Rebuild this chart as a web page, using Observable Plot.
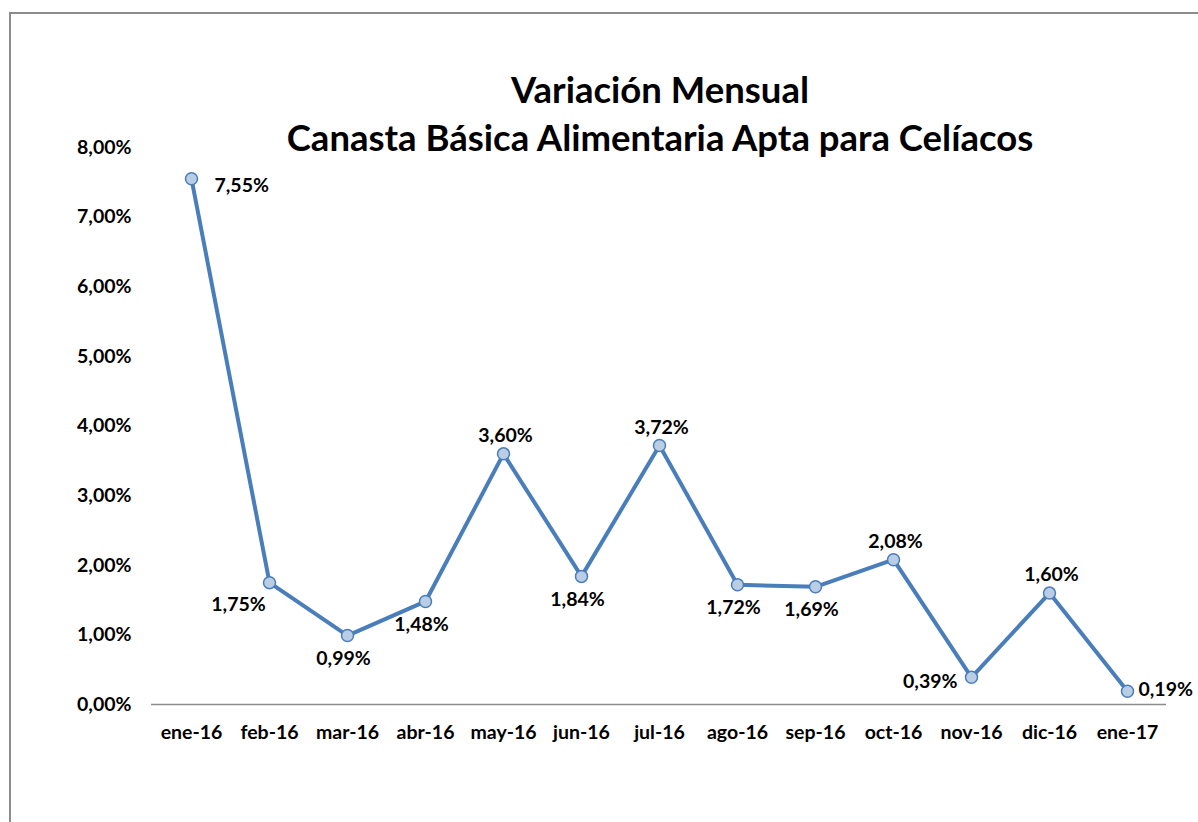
<!DOCTYPE html>
<html>
<head>
<meta charset="utf-8">
<script src="https://cdn.jsdelivr.net/npm/d3@7"></script>
<script src="https://cdn.jsdelivr.net/npm/@observablehq/plot@0.6"></script>
<style>
  html, body { margin: 0; padding: 0; background: #fff; width: 1198px; height: 822px; overflow: hidden; }
  #frame { position: absolute; left: 9px; top: 12px; width: 1300px; height: 900px;
           border-left: 2px solid #8c8c8c; border-top: 2px solid #8c8c8c; }
  #title { position: absolute; left: 0; width: 1320px; top: 65px; text-align: center;
           font-family: Lato, "Open Sans", sans-serif; font-weight: bold; font-size: 36.5px;
           line-height: 48px; color: #000; }
  #chart { position: absolute; left: 0; top: 0; }
</style>
</head>
<body>
<div id="frame"></div>
<div id="title">Variación Mensual<br>Canasta Básica Alimentaria Apta para Celíacos</div>
<div id="chart"></div>
<script>
const months = ["ene-16","feb-16","mar-16","abr-16","may-16","jun-16","jul-16","ago-16","sep-16","oct-16","nov-16","dic-16","ene-17"];
const values = [0.0755,0.0175,0.0099,0.0148,0.0360,0.0184,0.0372,0.0172,0.0169,0.0208,0.0039,0.0160,0.0019];
const yTicks = [0,0.01,0.02,0.03,0.04,0.05,0.06,0.07,0.08];

const data = months.map((m, i) => ({month: m, value: values[i]}));

// label placement (style, not data)
const placement = ["rightLow","belowLeft","below","below","above","below","above","below","below","above","left","above","right"];
const offs = {
  rightLow:  {dx: 23, dy: 7,  anchor: "start"},
  right:     {dx: 11, dy: -2, anchor: "start"},
  left:      {dx: -14, dy: 4, anchor: "end"},
  above:     {dx: 2,  dy: -18, anchor: "middle"},
  below:     {dx: -4, dy: 23, anchor: "middle"},
  belowLeft: {dx: -31, dy: 22, anchor: "middle"}
};
const fmt = v => (v * 100).toFixed(2).replace(".", ",") + "%";

const labelMarks = Object.keys(offs).map(k => Plot.text(
  data.filter((d, i) => placement[i] === k),
  {x: "month", y: "value", text: d => fmt(d.value), dx: offs[k].dx, dy: offs[k].dy,
   textAnchor: offs[k].anchor, fontSize: 19.5, fontWeight: "bold", fill: "#000"}
));

const blue = "#4a7ebb";
const plot = Plot.plot({
  width: 1198,
  height: 822,
  marginLeft: 151,
  marginRight: 32,
  marginTop: 147,
  marginBottom: 118,
  style: {fontFamily: "Lato, 'Open Sans', sans-serif", fontSize: "19.5px", fontWeight: "bold", color: "#000", background: "transparent"},
  x: {type: "band", domain: months, padding: 0, label: null, tickSize: 0, tickPadding: 21},
  y: {domain: [0, 0.08], ticks: yTicks, tickFormat: fmt, label: null, tickSize: 0, tickPadding: 20},
  marks: [
    Plot.ruleY([0], {stroke: "#8c8c8c", strokeWidth: 1.5}),
    Plot.line(data, {x: "month", y: "value", stroke: blue, strokeWidth: 4, curve: "linear"}),
    Plot.dot(data, {x: "month", y: "value", r: 6, fill: "#b9cde5", stroke: blue, strokeWidth: 1.5}),
    ...labelMarks
  ]
});
document.getElementById("chart").appendChild(plot);
</script>
</body>
</html>
